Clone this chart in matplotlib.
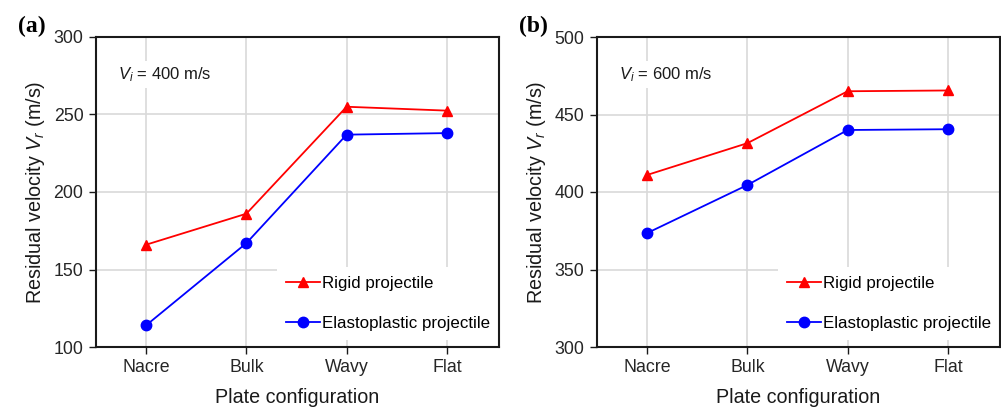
import matplotlib
matplotlib.use("Agg")
import matplotlib.pyplot as plt

plt.rcParams['font.family'] = ['Liberation Sans', 'DejaVu Sans']
plt.rcParams['mathtext.fontset'] = 'custom'
plt.rcParams['mathtext.rm'] = 'Liberation Sans'
plt.rcParams['mathtext.it'] = 'Liberation Sans:italic'

configs = ['Nacre', 'Bulk', 'Wavy', 'Flat']

# panel (a), Vi = 400 m/s
rigid_400 = [166, 186, 255, 252.5]
elasto_400 = [114, 167, 237, 238]

# panel (b), Vi = 600 m/s
rigid_600 = [411, 431.5, 465, 465.5]
elasto_600 = [373.5, 404.5, 440, 440.5]

panels = [
    ('(a)', '400', rigid_400, elasto_400, (100, 300)),
    ('(b)', '600', rigid_600, elasto_600, (300, 500)),
]

fig = plt.figure(figsize=(10.01, 4.09), dpi=100)
lefts = [96 / 1001, 597 / 1001]

for left, (tag, vi, rigid, elasto, ylim) in zip(lefts, panels):
    ax = fig.add_axes([left, 1 - 347 / 409, 403 / 1001, 310 / 409])
    x = range(len(configs))
    ax.plot(x, rigid, color='#ff0000', marker='^', markersize=7, lw=1.3,
            label='Rigid projectile', zorder=3)
    ax.plot(x, elasto, color='#0000ff', marker='o', markersize=7.5, lw=1.3,
            label='Elastoplastic projectile', zorder=3)
    ax.set_xlim(-0.5, 3.52)
    ax.set_ylim(*ylim)
    ax.set_yticks(range(ylim[0], ylim[1] + 1, 50))
    ax.set_xticks(list(x))
    ax.set_xticklabels(configs)
    ax.grid(True, color='#d9d9d9', lw=1.2)
    ax.set_axisbelow(True)
    for s in ax.spines.values():
        s.set_linewidth(1.5)
        s.set_color('#1a1a1a')
    ax.tick_params(labelsize=12.8, length=5, width=1, color='#1a1a1a',
                   labelcolor='#262626', pad=4)
    ax.set_xlabel('Plate configuration', fontsize=14.2, color='#1a1a1a', labelpad=8)
    ax.set_ylabel('Residual velocity $V_r$ (m/s)', fontsize=14.2, color='#1a1a1a',
                  labelpad=5)
    ax.text(0.055, 0.88, '$V_i$ = ' + vi + ' m/s', transform=ax.transAxes,
            fontsize=12, color='#1a1a1a', va='center', ha='left',
            bbox=dict(facecolor='white', edgecolor='none', pad=3), zorder=2)
    leg = ax.legend(loc='lower right', bbox_to_anchor=(1.0, 0.022),
                    fontsize=12.2, frameon=True,
                    fancybox=False, handlelength=2.0, handletextpad=0.1,
                    labelspacing=1.45, borderaxespad=0.0, borderpad=0.55)
    leg.get_frame().set_edgecolor('none')
    leg.get_frame().set_facecolor('white')
    leg.get_frame().set_alpha(1)
    leg.set_zorder(2.4)  # keep the spines drawn on top of the legend box
    fig.text(left - 0.078, 0.935, tag, fontsize=17, fontweight='bold',
             family='Liberation Serif', va='center', ha='left')

fig.savefig('out.png', dpi=100)
